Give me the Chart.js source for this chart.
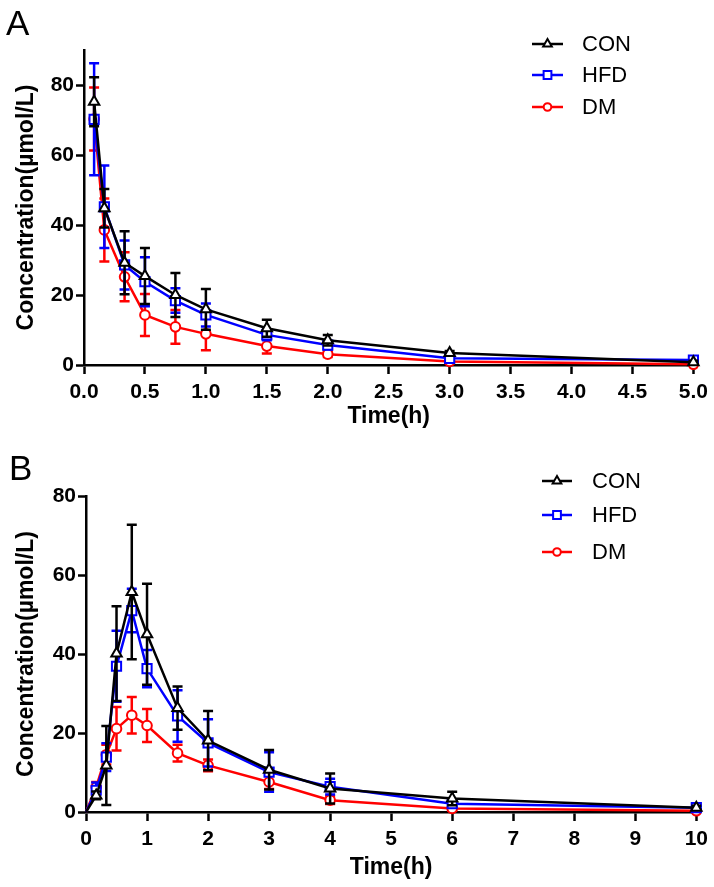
<!DOCTYPE html>
<html>
<head>
<meta charset="utf-8">
<script src="https://cdn.jsdelivr.net/npm/chart.js@4.4.1/dist/chart.umd.min.js"></script>
<style>
  html, body { margin: 0; padding: 0; background: #fff; }
  #wrap { position: relative; width: 714px; height: 887px; }
  .panel { position: absolute; left: 0; width: 714px; }
</style>
</head>
<body>
<div id="wrap">
  <div class="panel" style="top:0;height:440px;"><canvas id="chartA" width="714" height="440"></canvas></div>
  <div class="panel" style="top:440px;height:447px;"><canvas id="chartB" width="714" height="447"></canvas></div>
</div>
<script>
// ---------- DATA ----------
const seriesNames = ['CON', 'HFD', 'DM'];

// Panel A
const timeA = [0.083, 0.167, 0.333, 0.5, 0.75, 1, 1.5, 2, 3, 5];
const conA   = [75.2, 44.8, 29.2, 25.4, 20.0, 15.9, 10.5, 7.1, 3.4, 0.8];
const conSdA = [7.0, 5.5, 9.0, 8.0, 6.3, 5.8, 2.4, 1.5, 0.6, 0.4];
const hfdA   = [70.2, 45.2, 28.6, 23.8, 18.4, 14.3, 8.6, 5.7, 1.9, 1.4];
const hfdSdA = [16.0, 11.8, 7.0, 7.0, 3.5, 3.3, 1.5, 1.2, 0.5, 0.3];
const dmA    = [70.3, 38.6, 25.2, 14.3, 10.9, 8.9, 5.4, 3.1, 1.0, 0.2];
const dmSdA  = [9.0, 9.0, 7.0, 6.0, 4.8, 4.7, 2.1, 0.8, 0.4, 0.2];

// Panel B
const timeB = [0, 0.167, 0.333, 0.5, 0.75, 1, 1.5, 2, 3, 4, 6, 10];
const conB   = [0, 4.2, 11.8, 40.1, 55.7, 45.0, 26.3, 18.1, 10.7, 5.95, 3.4, 1.1];
const conSdB = [0, 1.0, 10.0, 12.0, 17.0, 12.8, 5.5, 7.5, 5.0, 3.8, 1.7, 0.5];
const hfdB   = [0, 5.5, 13.9, 36.9, 51.0, 36.3, 24.3, 17.5, 10.1, 6.4, 2.1, 1.1];
const hfdSdB = [0, 2.0, 3.5, 9.0, 5.5, 4.7, 6.5, 6.0, 5.0, 2.0, 0.8, 0.4];
const dmB    = [0, 6.3, 14.5, 21.1, 24.5, 21.9, 14.9, 11.8, 7.6, 3.0, 0.9, 0.3];
const dmSdB  = [0, 1.3, 2.5, 5.5, 4.6, 4.2, 2.1, 1.5, 1.8, 1.0, 0.5, 0.2];

const yTitle = 'Concentration(\u00b5mol/L)';
const xTitle = 'Time(h)';

// ---------- STYLE ----------
const FONT = "'Liberation Sans', Arial, Helvetica, sans-serif";
const colors = ['#000000', '#0000FF', '#FF0000'];
const styles = [
  { pointStyle: 'triangle', radius: 6 },
  { pointStyle: 'rect', radius: 6.5 },
  { pointStyle: 'circle', radius: 4.8 }
];

function toPts(t, v) { return t.map((x, i) => ({ x: x, y: v[i] })); }

function makeDatasets(t, vals, sds) {
  return vals.map((v, k) => {
    // no marker drawn at the time-zero origin point
    const radii = t.map(x => (x === 0 ? 0 : styles[k].radius));
    return {
      label: seriesNames[k],
      data: toPts(t, v),
      sd: sds[k],
      borderColor: colors[k],
      backgroundColor: '#ffffff',
      borderWidth: 2.5,
      pointStyle: styles[k].pointStyle,
      pointRadius: radii,
      pointHoverRadius: radii,
      pointBorderWidth: 2,
      pointBackgroundColor: '#ffffff',
      pointBorderColor: colors[k],
      tension: 0,
      clip: false
    };
  });
}

const errorBars = {
  id: 'errorBars',
  beforeDatasetDraw(chart, args) {
    const ds = chart.data.datasets[args.index];
    const ys = chart.scales.y;
    const ctx = chart.ctx;
    ctx.save();
    ctx.strokeStyle = ds.borderColor;
    ctx.lineWidth = 2.5;
    ctx.lineCap = 'butt';
    args.meta.data.forEach((pt, i) => {
      const sd = ds.sd[i];
      if (!sd) return;
      const v = ds.data[i].y;
      const x = pt.x;
      const yTop = ys.getPixelForValue(v + sd);
      const yBot = ys.getPixelForValue(Math.max(v - sd, 0));
      ctx.beginPath();
      ctx.moveTo(x, yTop); ctx.lineTo(x, yBot);
      ctx.moveTo(x - 5, yTop); ctx.lineTo(x + 5, yTop);
      if (v - sd > 0) { ctx.moveTo(x - 5, yBot); ctx.lineTo(x + 5, yBot); }
      ctx.stroke();
    });
    ctx.restore();
  }
};

const customLegend = {
  id: 'customLegend',
  afterDraw(chart, args, opts) {
    const ctx = chart.ctx;
    ctx.save();
    // panel letter
    ctx.fillStyle = '#000';
    ctx.font = '35px ' + FONT;
    ctx.textAlign = 'left';
    ctx.textBaseline = 'alphabetic';
    ctx.fillText(opts.letter, opts.letterX, opts.letterY);
    // legend
    opts.rows.forEach((y, k) => {
      ctx.strokeStyle = colors[k];
      ctx.lineWidth = 2.5;
      ctx.beginPath();
      ctx.moveTo(opts.x1, y); ctx.lineTo(opts.x2, y);
      ctx.stroke();
      ctx.fillStyle = '#ffffff';
      ctx.lineWidth = 2;
      Chart.helpers.drawPoint(ctx, { pointStyle: styles[k].pointStyle, radius: styles[k].radius - 1, rotation: 0, borderWidth: 2 }, (opts.x1 + opts.x2) / 2, y);
      ctx.fillStyle = '#000';
      ctx.font = '22px ' + FONT;
      ctx.textBaseline = 'middle';
      ctx.fillText(seriesNames[k], opts.tx, y + 1);
    });
    ctx.restore();
  }
};

function buildChart(id, cfg) {
  return new Chart(document.getElementById(id), {
    type: 'line',
    data: { datasets: cfg.datasets },
    plugins: [errorBars, customLegend],
    options: {
      responsive: false,
      animation: false,
      events: [],
      layout: { padding: { top: cfg.padTop, right: cfg.padRight, left: 0, bottom: 0 } },
      plugins: {
        legend: { display: false },
        tooltip: { enabled: false },
        customLegend: cfg.legend
      },
      scales: {
        x: {
          type: 'linear',
          min: cfg.xMin, max: cfg.xMax,
          border: { color: '#000', width: 2.5 },
          grid: { drawOnChartArea: false, drawTicks: true, tickLength: 9, tickWidth: 2.5, tickColor: '#000' },
          ticks: {
            stepSize: cfg.xStep, autoSkip: false, maxRotation: 0, color: '#000', padding: 6,
            font: { family: FONT, size: 21, weight: 'bold' },
            callback: cfg.xFmt
          },
          title: { display: true, text: xTitle, color: '#000', font: { family: FONT, size: 23, weight: 'bold' }, padding: { top: 0, bottom: cfg.xTitlePad } },
          afterFit: s => { s.height = cfg.xHeight; }
        },
        y: {
          type: 'linear',
          min: 0, max: cfg.yMax,
          border: { color: '#000', width: 2.5 },
          grid: { drawOnChartArea: false, drawTicks: true, tickLength: 8, tickWidth: 2.5, tickColor: '#000' },
          ticks: { stepSize: 20, color: '#000', padding: 2, font: { family: FONT, size: 21, weight: 'bold' } },
          afterBuildTicks: s => { s.ticks = s.ticks.filter(t => t.value <= 80); },
          title: { display: true, text: yTitle, color: '#000', font: { family: FONT, size: 23, weight: 'bold' }, padding: { top: 13, bottom: 0 } },
          afterFit: s => { s.width = cfg.yWidth; }
        }
      }
    }
  });
}

buildChart('chartA', {
  datasets: makeDatasets(timeA, [conA, hfdA, dmA], [conSdA, hfdSdA, dmSdA]),
  padTop: 50, padRight: 20, yWidth: 84, xHeight: 75,
  xMin: 0, xMax: 5, xStep: 0.5, xFmt: v => Number(v).toFixed(1), yMax: 90, xTitlePad: 10,
  legend: { letter: 'A', letterX: 6, letterY: 35, x1: 532, x2: 563, tx: 582, rows: [44, 75, 107] }
});

buildChart('chartB', {
  datasets: makeDatasets(timeB, [conB, hfdB, dmB], [conSdB, hfdSdB, dmSdB]),
  padTop: 56, padRight: 16, yWidth: 86, xHeight: 75,
  xMin: 0, xMax: 10, xStep: 1, xFmt: v => String(v), yMax: 80, xTitlePad: 6,
  legend: { letter: 'B', letterX: 9, letterY: 40, x1: 542, x2: 572, tx: 592, rows: [41, 75, 112] }
});
</script>
</body>
</html>
